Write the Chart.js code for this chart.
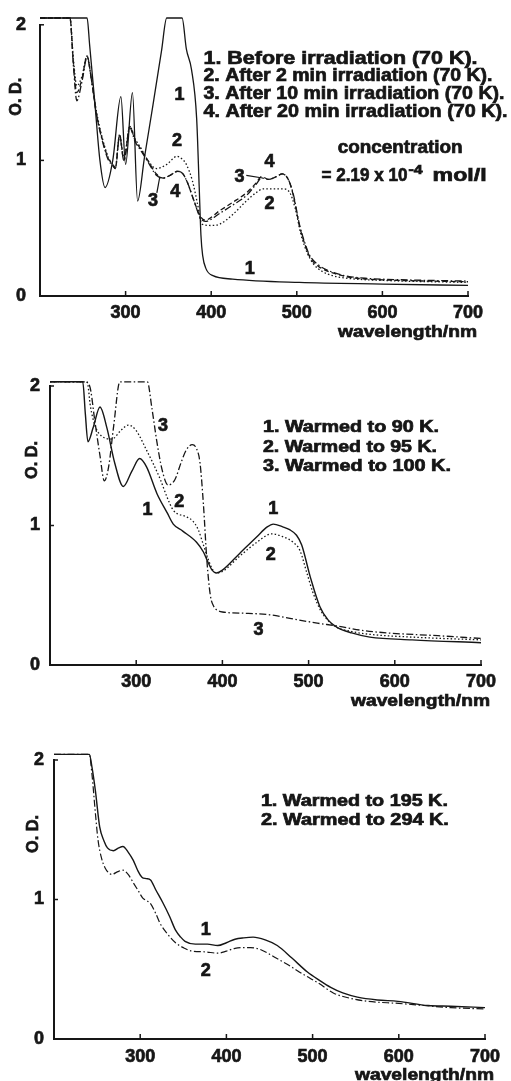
<!DOCTYPE html>
<html>
<head>
<meta charset="utf-8">
<script src="https://cdn.jsdelivr.net/npm/chart.js@4.4.1/dist/chart.umd.min.js"></script>
<style>
  html, body { margin: 0; padding: 0; background: #fff; }
  #wrap { position: relative; width: 511px; height: 1081px; }
  canvas { position: absolute; left: 0; }
</style>
</head>
<body>
<div id="wrap">
  <canvas id="c1" width="511" height="345" style="top:0px"></canvas>
  <canvas id="c2" width="511" height="367" style="top:345px"></canvas>
  <canvas id="c3" width="511" height="369" style="top:712px"></canvas>
</div>
<script>
const FONT = '"Liberation Sans", Arial, Helvetica, sans-serif';
const INK = '#161616';

// axes
const xTicks = [300, 400, 500, 600, 700];
const odTicks = [0, 1, 2];

// panel 1: irradiation at 70 K
const p1BeforeNm = [200, 255, 258, 264, 270, 276, 285, 294.5, 300, 308, 314, 322, 332, 342, 348, 366, 371, 377, 383, 386, 388, 390, 394, 402, 425, 503, 600, 700];
const p1BeforeOd = [2.05, 2.05, 1.85, 1.43, 1.0, 0.80, 1.0, 1.47, 0.97, 1.50, 0.70, 1.02, 1.41, 1.81, 2.05, 2.05, 1.82, 1.67, 1.31, 0.80, 0.45, 0.30, 0.20, 0.15, 0.125, 0.10, 0.088, 0.078];

const p1Min2Nm = [200, 235, 239, 243, 249, 255, 260, 266, 273, 280, 284, 288, 293, 298, 305, 311, 317, 326, 336, 348, 360, 366, 371, 378, 384, 389, 400, 410, 425, 441, 452, 461, 472, 484, 492, 498, 505, 512, 519, 530, 542, 560, 600, 700];
const p1Min2Od = [2.05, 2.05, 1.75, 1.55, 1.62, 1.77, 1.6, 1.36, 1.16, 1.02, 0.98, 0.95, 1.19, 1.02, 1.25, 1.16, 1.1, 1.0, 0.94, 0.97, 1.03, 1.01, 0.97, 0.85, 0.68, 0.53, 0.52, 0.53, 0.60, 0.70, 0.76, 0.79, 0.79, 0.79, 0.76, 0.65, 0.45, 0.32, 0.24, 0.18, 0.15, 0.13, 0.115, 0.10];

const p1Min10Nm = [200, 235, 239, 243, 249, 255, 260, 266, 273, 280, 284, 288, 293, 298, 305, 311, 317, 326, 336, 344, 352, 361, 367, 372, 380, 387, 393, 410, 425, 441, 452, 459, 467, 476, 483, 490, 496, 503, 510, 515, 525, 542, 560, 582, 620, 700];
const p1Min10Od = [2.05, 2.05, 1.72, 1.5, 1.6, 1.77, 1.6, 1.34, 1.15, 1.01, 0.98, 0.94, 1.19, 1.0, 1.25, 1.15, 1.09, 1.0, 0.90, 0.87, 0.89, 0.92, 0.9, 0.84, 0.7, 0.59, 0.56, 0.63, 0.69, 0.76, 0.83, 0.88, 0.86, 0.88, 0.90, 0.86, 0.74, 0.52, 0.37, 0.29, 0.22, 0.17, 0.14, 0.125, 0.115, 0.105];

const p1Min20Nm = [200, 235, 239, 243, 249, 255, 260, 266, 273, 280, 284, 288, 293, 298, 305, 311, 317, 326, 336, 344, 352, 361, 367, 372, 380, 387, 393, 410, 425, 441, 452, 459, 467, 476, 483, 490, 496, 503, 510, 515, 525, 542, 560, 582, 620, 700];
const p1Min20Od = [2.05, 2.05, 1.7, 1.44, 1.58, 1.76, 1.6, 1.34, 1.14, 1.0, 0.97, 0.94, 1.18, 1.0, 1.24, 1.14, 1.08, 0.99, 0.89, 0.87, 0.89, 0.92, 0.9, 0.84, 0.7, 0.58, 0.55, 0.61, 0.67, 0.74, 0.82, 0.87, 0.86, 0.88, 0.90, 0.86, 0.75, 0.53, 0.38, 0.30, 0.23, 0.175, 0.145, 0.13, 0.12, 0.11];

// panel 2: warmed to 90, 95, 100 K
const p2K90Nm = [200, 238, 241, 244, 250, 258, 266, 275, 285, 295, 304, 312, 324, 336, 343, 354, 370, 378, 383, 388, 393, 400, 420, 440, 452, 459, 470, 478, 486, 492, 502, 513, 523, 533, 550, 571, 620, 700];
const p2K90Od = [2.03, 2.03, 1.8, 1.6, 1.7, 1.85, 1.7, 1.45, 1.28, 1.39, 1.48, 1.42, 1.23, 1.09, 1.01, 0.96, 0.88, 0.81, 0.74, 0.68, 0.66, 0.68, 0.80, 0.92, 0.99, 1.01, 0.99, 0.97, 0.93, 0.86, 0.63, 0.42, 0.32, 0.27, 0.23, 0.20, 0.18, 0.16];

const p2K95Nm = [200, 243, 247, 252, 260, 272, 282, 291, 300, 312, 320, 328, 336, 343, 359, 366, 372, 378, 384, 389, 393, 400, 420, 440, 457, 470, 482, 490, 498, 505, 515, 530, 550, 571, 620, 700];
const p2K95Od = [2.03, 2.03, 1.85, 1.72, 1.64, 1.62, 1.68, 1.72, 1.68, 1.54, 1.44, 1.33, 1.2, 1.11, 1.06, 1.03, 0.97, 0.86, 0.75, 0.68, 0.66, 0.67, 0.78, 0.88, 0.94, 0.92, 0.88, 0.82, 0.66, 0.52, 0.38, 0.28, 0.24, 0.22, 0.20, 0.18];

const p2K100Nm = [200, 240, 246, 252, 258, 263, 268, 274, 281, 313, 318, 324, 330, 337, 345, 352, 358, 365, 370, 374, 378, 382, 386, 390, 395, 400, 430, 455, 482, 510, 533, 560, 591, 650, 700];
const p2K100Od = [2.03, 2.03, 2.0, 1.75, 1.5, 1.32, 1.42, 1.72, 2.03, 2.03, 1.85, 1.6, 1.4, 1.29, 1.33, 1.45, 1.54, 1.58, 1.55, 1.45, 1.15, 0.75, 0.5, 0.42, 0.39, 0.38, 0.37, 0.36, 0.33, 0.30, 0.28, 0.25, 0.23, 0.21, 0.19];

// panel 3: warmed to 195 and 294 K
const p3K195Nm = [200, 241, 244, 248, 253, 258, 262, 269, 275, 280, 286, 292, 297, 302, 307, 312, 318, 326, 334, 341, 347, 352, 364, 378, 390, 400, 410, 420, 431, 445, 459, 476, 494, 508, 521, 535, 552, 575, 599, 634, 660, 700];
const p3K195Od = [2.04, 2.04, 1.95, 1.78, 1.52, 1.42, 1.37, 1.35, 1.37, 1.38, 1.34, 1.28, 1.21, 1.16, 1.15, 1.14, 1.07, 0.98, 0.88, 0.78, 0.73, 0.70, 0.68, 0.68, 0.67, 0.69, 0.715, 0.725, 0.73, 0.71, 0.67, 0.58, 0.48, 0.42, 0.37, 0.33, 0.30, 0.28, 0.27, 0.24, 0.235, 0.225];

const p3K294Nm = [200, 241, 244, 248, 251, 255, 259, 267, 274, 280, 286, 292, 298, 303, 308, 312, 318, 323, 332, 341, 350, 360, 375, 390, 400, 410, 420, 428, 440, 455, 472, 490, 507, 524, 545, 564, 600, 629, 660, 700];
const p3K294Od = [2.04, 2.04, 1.9, 1.62, 1.43, 1.3, 1.23, 1.18, 1.2, 1.21, 1.18, 1.12, 1.06, 1.01, 0.99, 0.97, 0.9, 0.83, 0.75, 0.69, 0.655, 0.63, 0.625, 0.615, 0.63, 0.65, 0.655, 0.655, 0.64, 0.59, 0.53, 0.46, 0.40, 0.33, 0.29, 0.27, 0.255, 0.24, 0.225, 0.215];

const SOLID = [], DOTTED = [1.5, 2.2], DASHED = [5, 3], DASHDOT = [7, 2.5, 1.5, 2.5];

function series(nm, od, dash, width) {
  return {
    data: nm.map((x, i) => ({ x: x, y: od[i] })),
    borderColor: INK,
    borderWidth: width || 1.3,
    borderDash: dash,
    pointRadius: 0,
    fill: false,
    cubicInterpolationMode: 'monotone',
    clip: false
  };
}

// draws heavy text squeezed or stretched to a given width
function fitText(ctx, text, x, y, size, width, align) {
  ctx.save();
  ctx.font = 'bold ' + size + 'px ' + FONT;
  ctx.textBaseline = 'middle';
  ctx.textAlign = 'left';
  const w = ctx.measureText(text).width;
  const sx = width ? width / w : 1;
  const drawn = w * sx;
  let left = x;
  if (align === 'center') left = x - drawn / 2;
  if (align === 'right') left = x - drawn;
  ctx.translate(left, y);
  ctx.scale(sx, 1);
  ctx.lineWidth = 0.7;
  ctx.strokeStyle = INK;
  ctx.fillText(text, 0, 0);
  ctx.strokeText(text, 0, 0);
  ctx.restore();
}

const annot = {
  id: 'annot',
  afterDatasetsDraw(chart, args, o) {
    const ctx = chart.ctx, xs = chart.scales.x, ys = chart.scales.y, a = chart.chartArea;
    ctx.save();
    ctx.fillStyle = INK;
    ctx.strokeStyle = INK;
    ctx.lineWidth = 1.5;
    // inward tick marks
    xTicks.forEach(v => {
      const p = xs.getPixelForValue(v);
      ctx.beginPath(); ctx.moveTo(p, a.bottom); ctx.lineTo(p, a.bottom - 5); ctx.stroke();
    });
    [1, 2].forEach(v => {
      const p = ys.getPixelForValue(v);
      ctx.beginPath(); ctx.moveTo(a.left, p); ctx.lineTo(a.left + 4, p); ctx.stroke();
    });
    // leader lines
    ctx.lineWidth = 1.2;
    (o.leaders || []).forEach(l => {
      ctx.beginPath();
      ctx.moveTo(xs.getPixelForValue(l[0][0]), ys.getPixelForValue(l[0][1]));
      ctx.lineTo(xs.getPixelForValue(l[1][0]), ys.getPixelForValue(l[1][1]));
      ctx.stroke();
    });
    // texts in data coordinates
    (o.texts || []).forEach(t => {
      fitText(ctx, t.t, xs.getPixelForValue(t.x), ys.getPixelForValue(t.y), t.size || 18, t.w, t.align || 'center');
    });
    // axis titles
    fitText(ctx, 'wavelength/nm', xs.getPixelForValue(700) + 9, a.bottom + 36, 17, 139, 'right');
    ctx.save();
    ctx.translate(a.left + o.titleDx, ys.getPixelForValue(1.47));
    ctx.rotate(-Math.PI / 2);
    fitText(ctx, 'O. D.', 0, 0, 17, 38, 'center');
    ctx.restore();
    ctx.restore();
  }
};

function makeChart(id, datasets, cfg) {
  const tickFont = { family: FONT, size: 18, weight: 'bold' };
  const tickStyle = { font: tickFont, color: INK, textStrokeColor: INK, textStrokeWidth: 0.7 };
  return new Chart(document.getElementById(id), {
    type: 'line',
    data: { datasets: datasets },
    options: {
      responsive: false,
      animation: false,
      events: [],
      layout: { padding: { top: cfg.top, right: cfg.right, left: 0, bottom: 0 } },
      plugins: { legend: { display: false }, tooltip: { enabled: false }, annot: cfg.annot },
      scales: {
        x: {
          type: 'linear', min: 200, max: 700,
          afterBuildTicks: s => { s.ticks = xTicks.map(v => ({ value: v })); },
          afterFit: s => { s.height = cfg.xH; },
          ticks: Object.assign({ padding: cfg.xPad, maxRotation: 0, autoSkip: false }, tickStyle),
          grid: { display: false, drawTicks: false },
          border: { color: INK, width: 2 }
        },
        y: {
          type: 'linear', min: 0, max: 2,
          afterBuildTicks: s => { s.ticks = odTicks.map(v => ({ value: v })); },
          afterFit: s => { s.width = cfg.yW; },
          ticks: Object.assign({ padding: cfg.yPad }, tickStyle),
          grid: { display: false, drawTicks: false },
          border: { color: INK, width: 2 }
        }
      }
    },
    plugins: [annot]
  });
}

makeChart('c1', [
  series(p1BeforeNm, p1BeforeOd, SOLID, 1.3),
  series(p1Min2Nm, p1Min2Od, DOTTED, 1.3),
  series(p1Min10Nm, p1Min10Od, DASHED, 1.3),
  series(p1Min20Nm, p1Min20Od, DASHDOT, 1.3)
], {
  top: 22, right: 43, yW: 40, xH: 49, xPad: 6, yPad: 14,
  annot: {
    titleDx: -24,
    texts: [
      { t: '1. Before irradiation (70 K).', x: 391, y: 1.745, w: 274, align: 'left' },
      { t: '2. After 2 min irradiation (70 K).', x: 391, y: 1.62, w: 289, align: 'left' },
      { t: '3. After 10 min irradiation (70 K).', x: 391, y: 1.49, w: 301, align: 'left' },
      { t: '4. After 20 min irradiation (70 K).', x: 391, y: 1.36, w: 304, align: 'left' },
      { t: 'concentration', x: 547.7, y: 1.088, w: 125, align: 'left' },
      { t: '= 2.19 x 10', x: 529, y: 0.883, w: 86, align: 'left' },
      { t: '-4', x: 630.6, y: 0.925, w: 14, size: 12, align: 'left' },
      { t: 'mol/l', x: 658.6, y: 0.883, w: 54, align: 'left' },
      { t: '1', x: 363, y: 1.48 },
      { t: '2', x: 360, y: 1.14 },
      { t: '3', x: 332, y: 0.70 },
      { t: '4', x: 358, y: 0.77 },
      { t: '3', x: 433, y: 0.88 },
      { t: '4', x: 468, y: 0.99 },
      { t: '2', x: 468, y: 0.68 },
      { t: '1', x: 445, y: 0.20 }
    ],
    leaders: [[[336.5, 0.76], [340, 0.88]], [[441, 0.89], [460, 0.87]]]
  }
});

makeChart('c2', [
  series(p2K90Nm, p2K90Od, SOLID, 1.4),
  series(p2K95Nm, p2K95Od, DOTTED, 1.3),
  series(p2K100Nm, p2K100Od, DASHDOT, 1.3)
], {
  top: 41, right: 30, yW: 50, xH: 47, xPad: 6, yPad: 10,
  annot: {
    titleDx: -18,
    texts: [
      { t: '1. Warmed to 90 K.', x: 447, y: 1.70, w: 176, size: 16, align: 'left' },
      { t: '2. Warmed to 95 K.', x: 447, y: 1.556, w: 174, size: 16, align: 'left' },
      { t: '3. Warmed to 100 K.', x: 447, y: 1.42, w: 188, size: 16, align: 'left' },
      { t: '3', x: 331, y: 1.71 },
      { t: '2', x: 350, y: 1.17 },
      { t: '1', x: 313, y: 1.11 },
      { t: '1', x: 459, y: 1.12 },
      { t: '2', x: 456, y: 0.79 },
      { t: '3', x: 442, y: 0.25 }
    ]
  }
});

makeChart('c3', [
  series(p3K195Nm, p3K195Od, SOLID, 1.4),
  series(p3K294Nm, p3K294Od, DASHDOT, 1.2)
], {
  top: 48, right: 26, yW: 54, xH: 42, xPad: 7, yPad: 10,
  annot: {
    titleDx: -21,
    texts: [
      { t: '1. Warmed to 195 K.', x: 440, y: 1.70, w: 187, size: 16, align: 'left' },
      { t: '2. Warmed to 294 K.', x: 440, y: 1.563, w: 188, size: 16, align: 'left' },
      { t: '1', x: 376, y: 0.78 },
      { t: '2', x: 376, y: 0.49 }
    ]
  }
});
</script>
</body>
</html>
